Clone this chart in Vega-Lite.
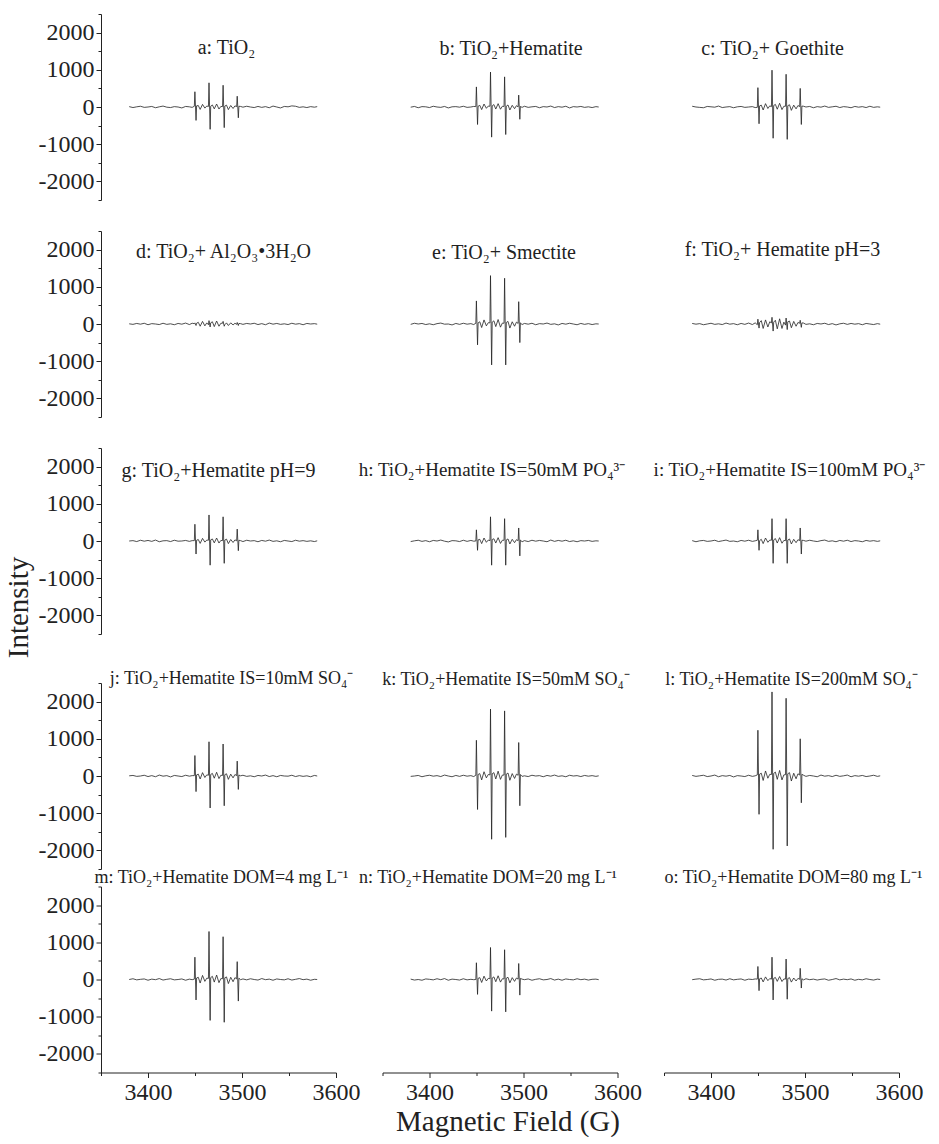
{
"$schema": "https://vega.github.io/schema/vega-lite/v6.json",
"background": "white",
"padding": {"left": 4, "top": 13, "right": 0, "bottom": 0},
"data": {"values": [
{"x":3380,"a":10,"b":-5,"c":20,"d":5,"e":-10,"f":15,"g":0,"h":-15,"i":10,"j":5,"k":-10,"l":15,"m":0,"n":10,"o":-5},
{"x":3384,"a":-15,"b":15,"c":0,"d":-10,"e":20,"f":-5,"g":10,"h":5,"i":-20,"j":15,"k":0,"l":-10,"m":20,"n":-15,"o":10},
{"x":3388,"a":5,"b":-20,"c":-10,"d":15,"e":0,"f":10,"g":-15,"h":20,"i":5,"j":-10,"k":15,"l":5,"m":-10,"n":0,"o":20},
{"x":3392,"a":20,"b":10,"c":-20,"d":-5,"e":15,"f":-20,"g":20,"h":-10,"i":15,"j":0,"k":-20,"l":20,"m":5,"n":-20,"o":-10},
{"x":3396,"a":-10,"b":5,"c":15,"d":20,"e":-15,"f":0,"g":-5,"h":10,"i":-10,"j":20,"k":5,"l":-15,"m":15,"n":15,"o":0},
{"x":3400,"a":0,"b":-15,"c":5,"d":-20,"e":5,"f":20,"g":15,"h":-20,"i":0,"j":-15,"k":20,"l":0,"m":-20,"n":5,"o":15},
{"x":3404,"a":15,"b":20,"c":-5,"d":10,"e":-20,"f":-10,"g":-10,"h":15,"i":20,"j":10,"k":-5,"l":25,"m":10,"n":-10,"o":-20},
{"x":3408,"a":-20,"b":0,"c":25,"d":0,"e":10,"f":5,"g":25,"h":0,"i":-15,"j":-20,"k":10,"l":-20,"m":-5,"n":20,"o":5},
{"x":3412,"a":5,"b":-10,"c":-15,"d":-15,"e":25,"f":-15,"g":-20,"h":25,"i":5,"j":25,"k":-15,"l":10,"m":25,"n":-5,"o":10},
{"x":3416,"a":25,"b":15,"c":0,"d":20,"e":-5,"f":25,"g":5,"h":-5,"i":25,"j":-5,"k":25,"l":-5,"m":-15,"n":25,"o":-15},
{"x":3420,"a":-5,"b":-25,"c":10,"d":-10,"e":0,"f":-5,"g":10,"h":-25,"i":-10,"j":10,"k":0,"l":15,"m":5,"n":-20,"o":20},
{"x":3424,"a":-15,"b":5,"c":-20,"d":5,"e":-25,"f":10,"g":-15,"h":10,"i":0,"j":-25,"k":-20,"l":-25,"m":20,"n":10,"o":-10},
{"x":3428,"a":10,"b":10,"c":5,"d":-20,"e":15,"f":-20,"g":20,"h":5,"i":-20,"j":15,"k":15,"l":10,"m":-10,"n":0,"o":5},
{"x":3432,"a":0,"b":-5,"c":15,"d":15,"e":-10,"f":15,"g":-5,"h":-15,"i":15,"j":0,"k":-10,"l":0,"m":0,"n":-15,"o":15},
{"x":3436,"a":-25,"b":20,"c":-10,"d":-5,"e":20,"f":-10,"g":0,"h":20,"i":-5,"j":-15,"k":20,"l":-15,"m":15,"n":20,"o":-20},
{"x":3440,"a":15,"b":-10,"c":0,"d":25,"e":-5,"f":25,"g":15,"h":-10,"i":20,"j":20,"k":-5,"l":20,"m":-20,"n":-10,"o":10},
{"x":3444,"a":5,"b":0,"c":10,"d":-15,"e":10,"f":-15,"g":-10,"h":15,"i":-10,"j":-5,"k":10,"l":-10,"m":10,"n":5,"o":0},
{"x":3447,"a":-10,"b":15,"c":-15,"d":20,"e":-15,"f":30,"g":10,"h":-5,"i":5,"j":10,"k":-15,"l":5,"m":-5,"n":-5,"o":15},
{"x":3449.3,"a":20,"b":10,"c":-10,"d":10,"e":20,"f":-20,"g":10,"h":0,"i":20,"j":10,"k":20,"l":30,"m":10,"n":0,"o":10},
{"x":3449.9,"a":410,"b":540,"c":520,"d":30,"e":620,"f":130,"g":450,"h":300,"i":300,"j":550,"k":960,"l":1230,"m":600,"n":450,"o":350},
{"x":3451.1,"a":-360,"b":-470,"c":-450,"d":-40,"e":-560,"f":-110,"g":-350,"h":-250,"i":-250,"j":-420,"k":-900,"l":-1030,"m":-550,"n":-400,"o":-300},
{"x":3451.7,"a":30,"b":20,"c":30,"d":20,"e":30,"f":40,"g":20,"h":30,"i":10,"j":30,"k":40,"l":50,"m":40,"n":30,"o":20},
{"x":3453.5,"a":40,"b":45,"c":50,"d":45,"e":60,"f":90,"g":40,"h":45,"i":45,"j":50,"k":65,"l":75,"m":60,"n":50,"o":40},
{"x":3455.5,"a":-65,"b":-70,"c":-80,"d":-60,"e":-95,"f":-120,"g":-65,"h":-70,"i":-70,"j":-80,"k":-105,"l":-120,"m":-95,"n":-80,"o":-65},
{"x":3458,"a":70,"b":80,"c":90,"d":70,"e":110,"f":110,"g":70,"h":80,"i":80,"j":90,"k":115,"l":135,"m":110,"n":90,"o":70},
{"x":3460.5,"a":-30,"b":-35,"c":-40,"d":-50,"e":-50,"f":-80,"g":-30,"h":-35,"i":-35,"j":-40,"k":-50,"l":-60,"m":-50,"n":-40,"o":-30},
{"x":3462.5,"a":25,"b":25,"c":30,"d":30,"e":35,"f":60,"g":25,"h":25,"i":25,"j":30,"k":40,"l":45,"m":35,"n":30,"o":25},
{"x":3464.3,"a":15,"b":20,"c":10,"d":-20,"e":30,"f":30,"g":20,"h":10,"i":20,"j":20,"k":30,"l":40,"m":30,"n":20,"o":10},
{"x":3464.9,"a":650,"b":940,"c":990,"d":90,"e":1300,"f":180,"g":700,"h":650,"i":600,"j":920,"k":1800,"l":2260,"m":1290,"n":860,"o":600},
{"x":3466.1,"a":-600,"b":-810,"c":-840,"d":-80,"e":-1100,"f":-190,"g":-650,"h":-650,"i":-600,"j":-860,"k":-1700,"l":-1970,"m":-1100,"n":-850,"o":-550},
{"x":3466.7,"a":20,"b":30,"c":40,"d":30,"e":50,"f":50,"g":30,"h":40,"i":30,"j":40,"k":60,"l":70,"m":50,"n":40,"o":30},
{"x":3468.5,"a":55,"b":65,"c":70,"d":60,"e":85,"f":100,"g":55,"h":60,"i":65,"j":70,"k":90,"l":105,"m":85,"n":70,"o":55},
{"x":3470.5,"a":-50,"b":-55,"c":-60,"d":-70,"e":-70,"f":-130,"g":-50,"h":-55,"i":-55,"j":-60,"k":-80,"l":-90,"m":-70,"n":-60,"o":-50},
{"x":3473,"a":80,"b":90,"c":100,"d":80,"e":120,"f":140,"g":80,"h":90,"i":90,"j":100,"k":130,"l":150,"m":120,"n":100,"o":80},
{"x":3475.5,"a":-55,"b":-60,"c":-70,"d":-60,"e":-85,"f":-120,"g":-55,"h":-65,"i":-60,"j":-70,"k":-90,"l":-105,"m":-85,"n":-70,"o":-55},
{"x":3477.5,"a":15,"b":20,"c":20,"d":20,"e":25,"f":50,"g":15,"h":20,"i":15,"j":20,"k":25,"l":30,"m":25,"n":20,"o":15},
{"x":3479.3,"a":10,"b":15,"c":20,"d":20,"e":20,"f":-30,"g":10,"h":20,"i":10,"j":15,"k":25,"l":35,"m":20,"n":15,"o":10},
{"x":3479.9,"a":585,"b":810,"c":880,"d":70,"e":1230,"f":160,"g":650,"h":600,"i":600,"j":860,"k":1750,"l":2090,"m":1150,"n":800,"o":550},
{"x":3481.1,"a":-555,"b":-740,"c":-870,"d":-60,"e":-1100,"f":-150,"g":-600,"h":-650,"i":-600,"j":-800,"k":-1650,"l":-1880,"m":-1150,"n":-870,"o":-530},
{"x":3481.7,"a":25,"b":20,"c":35,"d":-20,"e":40,"f":60,"g":25,"h":30,"i":25,"j":35,"k":50,"l":60,"m":45,"n":35,"o":25},
{"x":3483.5,"a":50,"b":55,"c":60,"d":30,"e":70,"f":80,"g":50,"h":55,"i":55,"j":60,"k":80,"l":90,"m":70,"n":60,"o":50},
{"x":3485.5,"a":-70,"b":-80,"c":-90,"d":-40,"e":-110,"f":-100,"g":-70,"h":-80,"i":-80,"j":-90,"k":-115,"l":-135,"m":-110,"n":-90,"o":-70},
{"x":3488,"a":40,"b":45,"c":50,"d":30,"e":60,"f":70,"g":40,"h":45,"i":45,"j":50,"k":65,"l":75,"m":60,"n":50,"o":40},
{"x":3490.5,"a":-40,"b":-45,"c":-50,"d":-25,"e":-60,"f":-60,"g":-40,"h":-45,"i":-45,"j":-50,"k":-65,"l":-75,"m":-60,"n":-50,"o":-40},
{"x":3492.5,"a":30,"b":35,"c":40,"d":20,"e":50,"f":40,"g":30,"h":35,"i":35,"j":40,"k":50,"l":60,"m":50,"n":40,"o":30},
{"x":3494.3,"a":10,"b":5,"c":10,"d":-10,"e":15,"f":20,"g":5,"h":10,"i":10,"j":10,"k":20,"l":25,"m":15,"n":10,"o":5},
{"x":3494.9,"a":290,"b":320,"c":500,"d":40,"e":600,"f":100,"g":320,"h":350,"i":350,"j":400,"k":900,"l":1000,"m":480,"n":430,"o":300},
{"x":3496.1,"a":-290,"b":-330,"c":-470,"d":-40,"e":-500,"f":-90,"g":-260,"h":-400,"i":-350,"j":-360,"k":-800,"l":-720,"m":-580,"n":-420,"o":-230},
{"x":3496.7,"a":20,"b":15,"c":25,"d":15,"e":30,"f":30,"g":20,"h":25,"i":20,"j":25,"k":40,"l":45,"m":35,"n":30,"o":20},
{"x":3498.5,"a":15,"b":-10,"c":20,"d":10,"e":-15,"f":25,"g":10,"h":-20,"i":15,"j":5,"k":-10,"l":20,"m":-5,"n":10,"o":-10},
{"x":3501,"a":-5,"b":20,"c":0,"d":-10,"e":15,"f":-10,"g":-15,"h":10,"i":-5,"j":20,"k":5,"l":-10,"m":15,"n":-5,"o":20},
{"x":3505,"a":20,"b":-10,"c":15,"d":15,"e":-5,"f":5,"g":20,"h":-15,"i":20,"j":-10,"k":-15,"l":15,"m":-10,"n":15,"o":-5},
{"x":3509,"a":0,"b":5,"c":-20,"d":0,"e":20,"f":-20,"g":0,"h":20,"i":0,"j":5,"k":20,"l":0,"m":20,"n":-20,"o":10},
{"x":3513,"a":-15,"b":15,"c":10,"d":20,"e":-20,"f":15,"g":10,"h":-5,"i":-15,"j":-20,"k":0,"l":-20,"m":0,"n":5,"o":-15},
{"x":3517,"a":15,"b":-20,"c":-5,"d":-15,"e":10,"f":0,"g":-20,"h":15,"i":10,"j":15,"k":10,"l":25,"m":-15,"n":20,"o":5},
{"x":3521,"a":-10,"b":10,"c":25,"d":10,"e":0,"f":20,"g":15,"h":0,"i":25,"j":0,"k":-20,"l":-5,"m":25,"n":-10,"o":15},
{"x":3525,"a":10,"b":0,"c":-10,"d":-20,"e":25,"f":-15,"g":-5,"h":-20,"i":-10,"j":25,"k":15,"l":10,"m":-5,"n":0,"o":-20},
{"x":3529,"a":-20,"b":25,"c":5,"d":25,"e":-10,"f":10,"g":25,"h":25,"i":5,"j":-15,"k":-5,"l":-15,"m":10,"n":25,"o":0},
{"x":3533,"a":25,"b":-15,"c":20,"d":-5,"e":5,"f":-25,"g":-10,"h":-10,"i":-20,"j":10,"k":25,"l":20,"m":-20,"n":-15,"o":25},
{"x":3537,"a":0,"b":10,"c":-15,"d":15,"e":-25,"f":5,"g":5,"h":15,"i":15,"j":-20,"k":-10,"l":-10,"m":15,"n":10,"o":-10},
{"x":3541,"a":-25,"b":-5,"c":10,"d":-10,"e":15,"f":20,"g":-20,"h":-5,"i":-5,"j":15,"k":5,"l":5,"m":0,"n":-20,"o":10},
{"x":3545,"a":15,"b":20,"c":0,"d":5,"e":-5,"f":-10,"g":15,"h":20,"i":20,"j":0,"k":-20,"l":25,"m":-10,"n":15,"o":-5},
{"x":3549,"a":5,"b":-25,"c":-20,"d":-15,"e":20,"f":15,"g":0,"h":-15,"i":-15,"j":-5,"k":20,"l":-20,"m":20,"n":0,"o":15},
{"x":3553,"a":30,"b":10,"c":15,"d":20,"e":0,"f":-5,"g":-15,"h":5,"i":10,"j":20,"k":0,"l":10,"m":-15,"n":-10,"o":-20},
{"x":3557,"a":20,"b":0,"c":-5,"d":-5,"e":-20,"f":10,"g":20,"h":-20,"i":0,"j":-15,"k":10,"l":-5,"m":5,"n":20,"o":5},
{"x":3561,"a":-10,"b":15,"c":10,"d":10,"e":15,"f":-20,"g":-5,"h":10,"i":-20,"j":10,"k":-15,"l":15,"m":25,"n":-5,"o":-10},
{"x":3565,"a":5,"b":-10,"c":-15,"d":-20,"e":-10,"f":15,"g":10,"h":0,"i":15,"j":-10,"k":15,"l":-15,"m":-5,"n":10,"o":20},
{"x":3569,"a":-15,"b":5,"c":20,"d":15,"e":10,"f":0,"g":-10,"h":15,"i":-5,"j":5,"k":-5,"l":0,"m":10,"n":-15,"o":0},
{"x":3573,"a":10,"b":-15,"c":-10,"d":0,"e":-15,"f":-15,"g":5,"h":-10,"i":10,"j":-20,"k":10,"l":20,"m":-20,"n":5,"o":-15},
{"x":3577,"a":-5,"b":10,"c":5,"d":10,"e":5,"f":10,"g":-15,"h":5,"i":-10,"j":15,"k":-10,"l":-10,"m":5,"n":10,"o":10},
{"x":3580,"a":10,"b":0,"c":-5,"d":-5,"e":0,"f":-5,"g":5,"h":0,"i":5,"j":0,"k":5,"l":5,"m":0,"n":-5,"o":0}
]},
"config": {
  "font": "Liberation Serif",
  "view": {"stroke": null},
  "title": {"font": "Liberation Serif", "fontSize": 18, "fontWeight": "normal", "color": "#222222", "anchor": "middle", "frame": "group", "baseline": "alphabetic"},
  "axis": {"grid": false, "domainColor": "#222222", "tickColor": "#222222", "labelColor": "#222222", "labelFont": "Liberation Serif", "titleFont": "Liberation Serif", "titleFontWeight": "normal", "titleColor": "#222222", "labelPadding": 2, "labelFlush": false, "labelOverlap": false, "domainWidth": 1, "tickWidth": 1},
  "line": {"color": "#222222", "strokeWidth": 0.8}
},
"spacing": 12,
"vconcat": [
 {"spacing": 29, "vconcat": [
  {"bounds": "flush", "spacing": 46.5, "hconcat": [
   {"width": 235, "height": 186, "title": {"text": "a: TiO₂", "offset": -44.5, "dx": 8, "fontSize": 20}, "mark": "line",
    "encoding": {"x": {"field": "x", "type": "quantitative", "scale": {"domain": [3350, 3600], "nice": false, "zero": false}, "axis": null},
     "y": {"field": "a", "type": "quantitative", "scale": {"domain": [-2500, 2500], "nice": false}, "axis": {"title": null, "labelFont": "Liberation Serif", "values": [-2500,-2000,-1500,-1000,-500,0,500,1000,1500,2000,2500], "labelExpr": "datum.value % 1000 == 0 ? '' + datum.value : ''", "labelFontSize": {"condition": {"test": "datum.value % 1000 == 0", "value": 24}, "value": 0}, "tickSize": {"condition": {"test": "datum.value % 1000 == 0", "value": 5}, "value": 3}}}}},
   {"width": 235, "height": 186, "title": {"text": "b: TiO₂+Hematite", "offset": -44.5, "dx": 11, "fontSize": 20}, "mark": "line",
    "encoding": {"x": {"field": "x", "type": "quantitative", "scale": {"domain": [3350, 3600], "nice": false, "zero": false}, "axis": null},
     "y": {"field": "b", "type": "quantitative", "scale": {"domain": [-2500, 2500], "nice": false}, "axis": null}}},
   {"width": 235, "height": 186, "title": {"text": "c: TiO₂+ Goethite", "offset": -44.5, "dx": -9, "fontSize": 20}, "mark": "line",
    "encoding": {"x": {"field": "x", "type": "quantitative", "scale": {"domain": [3350, 3600], "nice": false, "zero": false}, "axis": null},
     "y": {"field": "c", "type": "quantitative", "scale": {"domain": [-2500, 2500], "nice": false}, "axis": null}}}
  ]},
  {"bounds": "flush", "spacing": 46.5, "hconcat": [
   {"width": 235, "height": 186, "title": {"text": "d: TiO₂+ Al₂O₃•3H₂O", "offset": -31.5, "dx": 5, "fontSize": 20}, "mark": "line",
    "encoding": {"x": {"field": "x", "type": "quantitative", "scale": {"domain": [3350, 3600], "nice": false, "zero": false}, "axis": null},
     "y": {"field": "d", "type": "quantitative", "scale": {"domain": [-2500, 2500], "nice": false}, "axis": {"title": null, "labelFont": "Liberation Serif", "values": [-2500,-2000,-1500,-1000,-500,0,500,1000,1500,2000,2500], "labelExpr": "datum.value % 1000 == 0 ? '' + datum.value : ''", "labelFontSize": {"condition": {"test": "datum.value % 1000 == 0", "value": 24}, "value": 0}, "tickSize": {"condition": {"test": "datum.value % 1000 == 0", "value": 5}, "value": 3}}}}},
   {"width": 235, "height": 186, "title": {"text": "e: TiO₂+ Smectite", "offset": -31.5, "dx": 4, "fontSize": 20}, "mark": "line",
    "encoding": {"x": {"field": "x", "type": "quantitative", "scale": {"domain": [3350, 3600], "nice": false, "zero": false}, "axis": null},
     "y": {"field": "e", "type": "quantitative", "scale": {"domain": [-2500, 2500], "nice": false}, "axis": null}}},
   {"width": 235, "height": 186, "title": {"text": "f: TiO₂+ Hematite pH=3", "offset": -28.5, "dx": 1, "fontSize": 20}, "mark": "line",
    "encoding": {"x": {"field": "x", "type": "quantitative", "scale": {"domain": [3350, 3600], "nice": false, "zero": false}, "axis": null},
     "y": {"field": "f", "type": "quantitative", "scale": {"domain": [-2500, 2500], "nice": false}, "axis": null}}}
  ]},
  {"bounds": "flush", "spacing": 46.5, "hconcat": [
   {"width": 235, "height": 186, "title": {"text": "g: TiO₂+Hematite pH=9", "offset": -33.5, "dx": 0, "fontSize": 20}, "mark": "line",
    "encoding": {"x": {"field": "x", "type": "quantitative", "scale": {"domain": [3350, 3600], "nice": false, "zero": false}, "axis": null},
     "y": {"field": "g", "type": "quantitative", "scale": {"domain": [-2500, 2500], "nice": false}, "axis": {"title": "Intensity", "titleFontSize": 29, "titleX": -74, "titleY": 159, "titleAngle": -90, "titleAlign": "center", "titleBaseline": "alphabetic", "labelFont": "Liberation Serif", "values": [-2500,-2000,-1500,-1000,-500,0,500,1000,1500,2000,2500], "labelExpr": "datum.value % 1000 == 0 ? '' + datum.value : ''", "labelFontSize": {"condition": {"test": "datum.value % 1000 == 0", "value": 24}, "value": 0}, "tickSize": {"condition": {"test": "datum.value % 1000 == 0", "value": 5}, "value": 3}}}}},
   {"width": 235, "height": 186, "title": {"text": "h: TiO₂+Hematite IS=50mM PO₄³⁻", "offset": -31.5, "dx": -8, "fontSize": 19}, "mark": "line",
    "encoding": {"x": {"field": "x", "type": "quantitative", "scale": {"domain": [3350, 3600], "nice": false, "zero": false}, "axis": null},
     "y": {"field": "h", "type": "quantitative", "scale": {"domain": [-2500, 2500], "nice": false}, "axis": null}}},
   {"width": 235, "height": 186, "title": {"text": "i: TiO₂+Hematite IS=100mM PO₄³⁻", "offset": -31.5, "dx": 8, "fontSize": 19}, "mark": "line",
    "encoding": {"x": {"field": "x", "type": "quantitative", "scale": {"domain": [3350, 3600], "nice": false, "zero": false}, "axis": null},
     "y": {"field": "i", "type": "quantitative", "scale": {"domain": [-2500, 2500], "nice": false}, "axis": null}}}
  ]}
 ]},
 {"spacing": -1.5, "vconcat": [
  {"bounds": "flush", "spacing": 46.5, "hconcat": [
   {"width": 235, "height": 186, "title": {"text": "j: TiO₂+Hematite IS=10mM SO₄⁻", "offset": -5.5, "dx": 13}, "mark": "line",
    "encoding": {"x": {"field": "x", "type": "quantitative", "scale": {"domain": [3350, 3600], "nice": false, "zero": false}, "axis": null},
     "y": {"field": "j", "type": "quantitative", "scale": {"domain": [-2500, 2500], "nice": false}, "axis": {"title": null, "labelFont": "Liberation Serif", "values": [-2500,-2000,-1500,-1000,-500,0,500,1000,1500,2000,2500], "labelExpr": "datum.value % 1000 == 0 ? '' + datum.value : ''", "labelFontSize": {"condition": {"test": "datum.value % 1000 == 0", "value": 24}, "value": 0}, "tickSize": {"condition": {"test": "datum.value % 1000 == 0", "value": 5}, "value": 3}}}}},
   {"width": 235, "height": 186, "title": {"text": "k: TiO₂+Hematite IS=50mM SO₄⁻", "offset": -5.5, "dx": 6}, "mark": "line",
    "encoding": {"x": {"field": "x", "type": "quantitative", "scale": {"domain": [3350, 3600], "nice": false, "zero": false}, "axis": null},
     "y": {"field": "k", "type": "quantitative", "scale": {"domain": [-2500, 2500], "nice": false}, "axis": null}}},
   {"width": 235, "height": 186, "title": {"text": "l: TiO₂+Hematite IS=200mM SO₄⁻", "offset": -5.5, "dx": 10}, "mark": "line",
    "encoding": {"x": {"field": "x", "type": "quantitative", "scale": {"domain": [3350, 3600], "nice": false, "zero": false}, "axis": null},
     "y": {"field": "l", "type": "quantitative", "scale": {"domain": [-2500, 2500], "nice": false}, "axis": null}}}
  ]},
  {"bounds": "flush", "spacing": 46.5, "hconcat": [
   {"width": 235, "height": 186, "title": {"text": "m: TiO₂+Hematite DOM=4 mg L⁻¹", "offset": -0.5, "dx": 3}, "mark": "line",
    "encoding": {"x": {"field": "x", "type": "quantitative", "scale": {"domain": [3350, 3600], "nice": false, "zero": false}, "axis": {"title": null, "labelFont": "Liberation Serif", "values": [3350,3400,3450,3500,3550,3600], "labelExpr": "datum.value % 100 == 0 ? '' + datum.value : ''", "labelPadding": 3, "labelFontSize": {"condition": {"test": "datum.value % 100 == 0", "value": 24}, "value": 0}, "tickSize": {"condition": {"test": "datum.value % 100 == 0", "value": 5}, "value": 3}}},
     "y": {"field": "m", "type": "quantitative", "scale": {"domain": [-2500, 2500], "nice": false}, "axis": {"title": null, "labelFont": "Liberation Serif", "values": [-2500,-2000,-1500,-1000,-500,0,500,1000,1500,2000,2500], "labelExpr": "datum.value % 1000 == 0 ? '' + datum.value : ''", "labelFontSize": {"condition": {"test": "datum.value % 1000 == 0", "value": 24}, "value": 0}, "tickSize": {"condition": {"test": "datum.value % 1000 == 0", "value": 5}, "value": 3}}}}},
   {"width": 235, "height": 186, "title": {"text": "n: TiO₂+Hematite DOM=20 mg L⁻¹", "offset": -0.5, "dx": -12}, "mark": "line",
    "encoding": {"x": {"field": "x", "type": "quantitative", "scale": {"domain": [3350, 3600], "nice": false, "zero": false}, "axis": {"title": "Magnetic Field (G)", "titleFontSize": 29, "titleX": 125, "titleY": 58, "titleAlign": "center", "titleBaseline": "alphabetic", "labelFont": "Liberation Serif", "values": [3350,3400,3450,3500,3550,3600], "labelExpr": "datum.value % 100 == 0 ? '' + datum.value : ''", "labelPadding": 3, "labelFontSize": {"condition": {"test": "datum.value % 100 == 0", "value": 24}, "value": 0}, "tickSize": {"condition": {"test": "datum.value % 100 == 0", "value": 5}, "value": 3}}},
     "y": {"field": "n", "type": "quantitative", "scale": {"domain": [-2500, 2500], "nice": false}, "axis": null}}},
   {"width": 235, "height": 186, "title": {"text": "o: TiO₂+Hematite DOM=80 mg L⁻¹", "offset": -0.5, "dx": 12}, "mark": "line",
    "encoding": {"x": {"field": "x", "type": "quantitative", "scale": {"domain": [3350, 3600], "nice": false, "zero": false}, "axis": {"title": null, "labelFont": "Liberation Serif", "values": [3350,3400,3450,3500,3550,3600], "labelExpr": "datum.value % 100 == 0 ? '' + datum.value : ''", "labelPadding": 3, "labelFontSize": {"condition": {"test": "datum.value % 100 == 0", "value": 24}, "value": 0}, "tickSize": {"condition": {"test": "datum.value % 100 == 0", "value": 5}, "value": 3}}},
     "y": {"field": "o", "type": "quantitative", "scale": {"domain": [-2500, 2500], "nice": false}, "axis": null}}}
  ]}
 ]}
]
}
